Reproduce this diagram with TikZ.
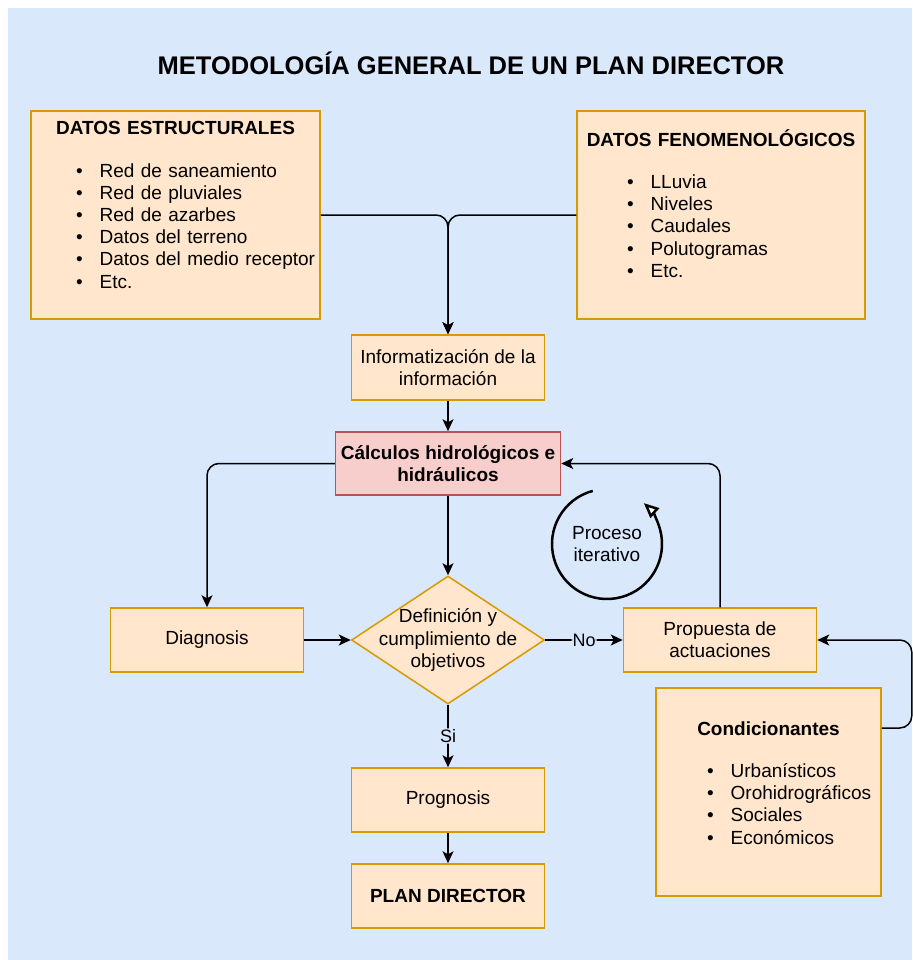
\documentclass[tikz,border=0pt]{standalone}
\usepackage{fontspec}
\setmainfont{Liberation Sans}
\usetikzlibrary{shapes.geometric,arrows.meta,positioning}

\definecolor{fondo}{HTML}{DAE8FC}
\definecolor{relleno}{HTML}{FFE6CC}
\definecolor{borde}{HTML}{D79B00}
\definecolor{rosa}{HTML}{F8CECC}
\definecolor{bordero}{HTML}{B85450}

\newcommand{\letra}{\fontsize{19pt}{22.2pt}\selectfont}
\newcommand{\cabecera}[1]{\makebox[\linewidth]{\bfseries #1}}
\newcommand{\itm}[2][45pt]{\hspace*{#1}\textbullet\hspace{17pt}#2}
\newcommand{\hueco}[1][20pt]{\par\nointerlineskip\vskip#1\null}

\tikzstyle{block} = [draw=borde, fill=relleno, rectangle, line width=1.5pt,
    minimum width=193pt, minimum height=64pt, inner sep=0pt, align=center, font=\letra]
\tikzstyle{calculo} = [block, draw=bordero, fill=rosa, minimum width=225pt,
    minimum height=63pt, font=\letra\bfseries]
\tikzstyle{decision} = [draw=borde, fill=relleno, diamond, line width=1.5pt,
    minimum width=193pt, minimum height=128pt, inner sep=-30pt, align=center, font=\letra]
\tikzstyle{datos} = [draw=borde, fill=relleno, rectangle, line width=1.5pt,
    minimum height=208pt, inner sep=0pt, align=left, font=\letra]
\tikzstyle{conector} = [line width=1.5pt, rounded corners=12pt,
    -{Stealth[length=12pt, width=11pt, inset=3pt]}]
\tikzstyle{etiqueta} = [fill=fondo, inner sep=1pt, font=\fontsize{18pt}{21pt}\selectfont]

\begin{document}
\begin{tikzpicture}[x=1pt, y=-1pt]

	% Fondo
	\useasboundingbox (0,0) rectangle (912,960);
	\fill [fondo] (8,8) rectangle (912,960);

	% Titulo
	\node [font=\fontsize{25.5pt}{30pt}\selectfont\bfseries] (titulo) at (471,63)
		{METODOLOGÍA GENERAL DE UN PLAN DIRECTOR};

	% Datos de partida
	\node [datos, text width=289pt] (estruct) at (175.5,215) {
		\cabecera{DATOS ESTRUCTURALES}\\[20pt]
		\itm{Red de saneamiento}\\
		\itm{Red de pluviales}\\
		\itm{Red de azarbes}\\
		\itm{Datos del terreno}\\
		\itm{Datos del medio receptor}\\
		\itm{Etc.}\hueco[20pt]};
	\node [datos, text width=288pt] (fenom) at (721,215) {
		\cabecera{DATOS FENOMENOLÓGICOS}\\[20pt]
		\itm[50pt]{LLuvia}\\
		\itm[50pt]{Niveles}\\
		\itm[50pt]{Caudales}\\
		\itm[50pt]{Polutogramas}\\
		\itm[50pt]{Etc.}\hueco[23pt]};

	% Columna central
	\node [block, minimum height=65pt] (info) at (448,367.5)
		{Informatización de la\\información};
	\node [calculo, below=30.5pt of info] (calculos)
		{Cálculos hidrológicos e\\hidráulicos};
	\node [decision, below=79.5pt of calculos] (dec)
		{Definición y\\cumplimiento de\\objetivos};
	\node [block, below=62.5pt of dec] (prog) {Prognosis};
	\node [block, below=30.5pt of prog, font=\letra\bfseries] (plan) {PLAN DIRECTOR};

	% A los lados de la decision
	\node [block, left=46.5pt of dec] (diag) {Diagnosis};
	\node [block, right=77.5pt of dec] (prop) {Propuesta de\\actuaciones};

	% Condicionantes
	\node [datos, text width=225pt] (cond) at (768.5,792) {
		\cabecera{Condicionantes}\\[20pt]
		\itm[51pt]{Urbanísticos}\\
		\itm[51pt]{Orohidrográficos}\\
		\itm[51pt]{Sociales}\\
		\itm[51pt]{Económicos}\hueco[18pt]};

	% Proceso iterativo
	\node [font=\letra, align=center] (iter) at (607,544) {Proceso\\iterativo};
	\coordinate (arcini) at ([shift={(105:55pt)}]iter.center);
	\draw [line width=2.5pt, -{Triangle[open, fill=white, length=15pt, width=13pt]}]
		(arcini) arc [start angle=105, end angle=408, radius=55pt];

	% Conexiones
	\draw [conector] (estruct.east) -| (info.north);
	\draw [conector] (fenom.west) -| (info.north);
	\draw [conector] (info) -- (calculos);
	\draw [conector] (calculos) -- (dec);
	\draw [conector] (calculos.west) -| (diag.north);
	\draw [conector] (diag) -- (dec);
	\draw [conector] (dec) -- node [etiqueta] {No} (prop);
	\draw [conector] (dec) -- node [etiqueta] {Si} (prog);
	\draw [conector] (prog) -- (plan);
	\draw [conector] (prop.north) |- (calculos.east);
	\draw [conector] ([yshift=64pt]cond.east) -- ++(30pt,0) |- (prop.east);

\end{tikzpicture}
\end{document}
